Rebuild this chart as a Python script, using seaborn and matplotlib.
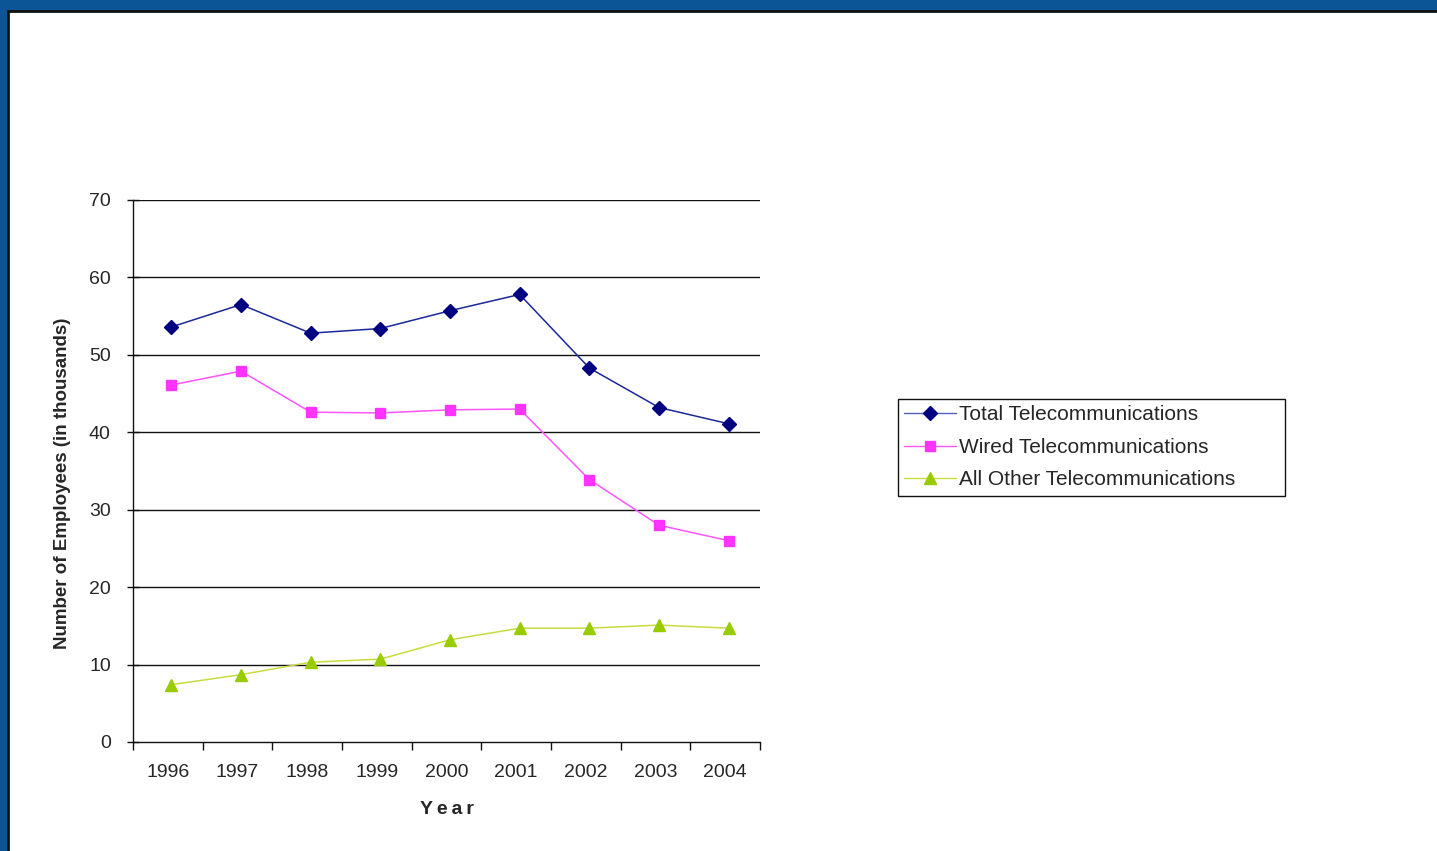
import matplotlib
matplotlib.use("Agg")
import matplotlib.pyplot as plt
import seaborn as sns
import pandas as pd
import numpy as np
from matplotlib.patches import Rectangle
from matplotlib.lines import Line2D

years = ["1996", "1997", "1998", "1999", "2000", "2001", "2002", "2003", "2004"]
total = [53.6, 56.5, 52.8, 53.4, 55.7, 57.8, 48.3, 43.2, 41.1]
wired = [46.1, 47.9, 42.6, 42.5, 42.9, 43.0, 33.9, 28.0, 26.0]
other = [7.4, 8.7, 10.3, 10.7, 13.2, 14.7, 14.7, 15.1, 14.7]
series_names = ["Total Telecommunications", "Wired Telecommunications", "All Other Telecommunications"]

sns.set_theme(style="white")
plt.rcParams['font.family'] = ['Liberation Sans', 'DejaVu Sans']

fig = plt.figure(figsize=(14.37, 8.51), dpi=100)
# blue frame background
fig.patches.append(Rectangle((0, 0), 1, 1, transform=fig.transFigure, facecolor="#0b5597", edgecolor="none", zorder=-10))
fig.patches.append(Rectangle((8/1437, -0.01), 1.01, 1 - 11/851 + 0.01, transform=fig.transFigure,
                             facecolor="white", edgecolor="#111111", linewidth=2.0, zorder=-9))

ax = fig.add_axes([133/1437, 1 - 742/851, (760-133)/1437, (742-200)/851])
ax.set_facecolor("none")

xs = np.arange(len(years)) + 0.05
df = pd.DataFrame({
    "x": np.concatenate([xs, xs, xs]),
    "value": total + wired + other,
    "series": [series_names[0]]*9 + [series_names[1]]*9 + [series_names[2]]*9,
})

line_colors = {series_names[0]: "#1a2a9a", series_names[1]: "#ff55ff", series_names[2]: "#c8dc40"}
sns.lineplot(data=df, x="x", y="value", hue="series", palette=line_colors, ax=ax, linewidth=1.1,
             legend=False, zorder=3)

ax.plot(xs, total, linestyle="none", marker="D", markersize=7.5, color="#000080", zorder=4)
ax.plot(xs, wired, linestyle="none", marker="s", markersize=7, color="#ff33ff", zorder=4)
ax.plot(xs, other, linestyle="none", marker="^", markersize=8, color="#99cc00", zorder=4)

ax.set_xlim(-0.5, 8.5)
ax.set_ylim(0, 70)
ax.set_yticks(range(0, 71, 10))
for yv in range(10, 71, 10):
    ax.axhline(yv, color="#111111", linewidth=1.0, zorder=1)
ax.set_xticks(np.arange(9))
ax.set_xticklabels(years, fontsize=14)
ax.set_xticks(np.arange(-0.5, 9, 1), minor=True)
ax.tick_params(axis="x", which="major", bottom=False, length=0, pad=16)
ax.tick_params(axis="x", which="minor", bottom=True, length=6, width=1, color="#111111", direction="out")
ax.tick_params(axis="y", which="major", left=True, length=8, width=1, color="#111111", direction="inout",
               labelsize=14, pad=12)
for s in ["top", "right"]:
    ax.spines[s].set_visible(False)
for s in ["left", "bottom"]:
    ax.spines[s].set_color("#111111")
    ax.spines[s].set_linewidth(1.0)

ax.set_xlabel("Y\u2009e\u2009a\u2009r", fontsize=14, fontweight="bold", labelpad=14)
ax.set_ylabel("Number of Employees (in thousands)", fontsize=13.5, fontweight="bold")
ax.yaxis.set_label_coords(-62/627, (742-483)/542)

handles = [
    Line2D([], [], color="#5060c0", marker="D", markersize=7, markerfacecolor="#000080", markeredgecolor="#000080", linewidth=1),
    Line2D([], [], color="#ff55ff", marker="s", markersize=7, markerfacecolor="#ff33ff", markeredgecolor="#ff33ff", linewidth=1),
    Line2D([], [], color="#c8dc40", marker="^", markersize=8, markerfacecolor="#99cc00", markeredgecolor="#99cc00", linewidth=1),
]
leg = fig.legend(handles, series_names, loc="upper left", bbox_to_anchor=(898/1437, 1 - 399/851),
                 frameon=False, fontsize=15, handlelength=2.5, handletextpad=0.15,
                 borderpad=0.3, labelspacing=0.65, borderaxespad=0)
fig.patches.append(Rectangle((898/1437, 1 - 496/851), (1285-898)/1437, (496-399)/851,
                             transform=fig.transFigure, facecolor="none", edgecolor="#111111",
                             linewidth=1.0, zorder=5))

fig.savefig("out.png", dpi=100)
